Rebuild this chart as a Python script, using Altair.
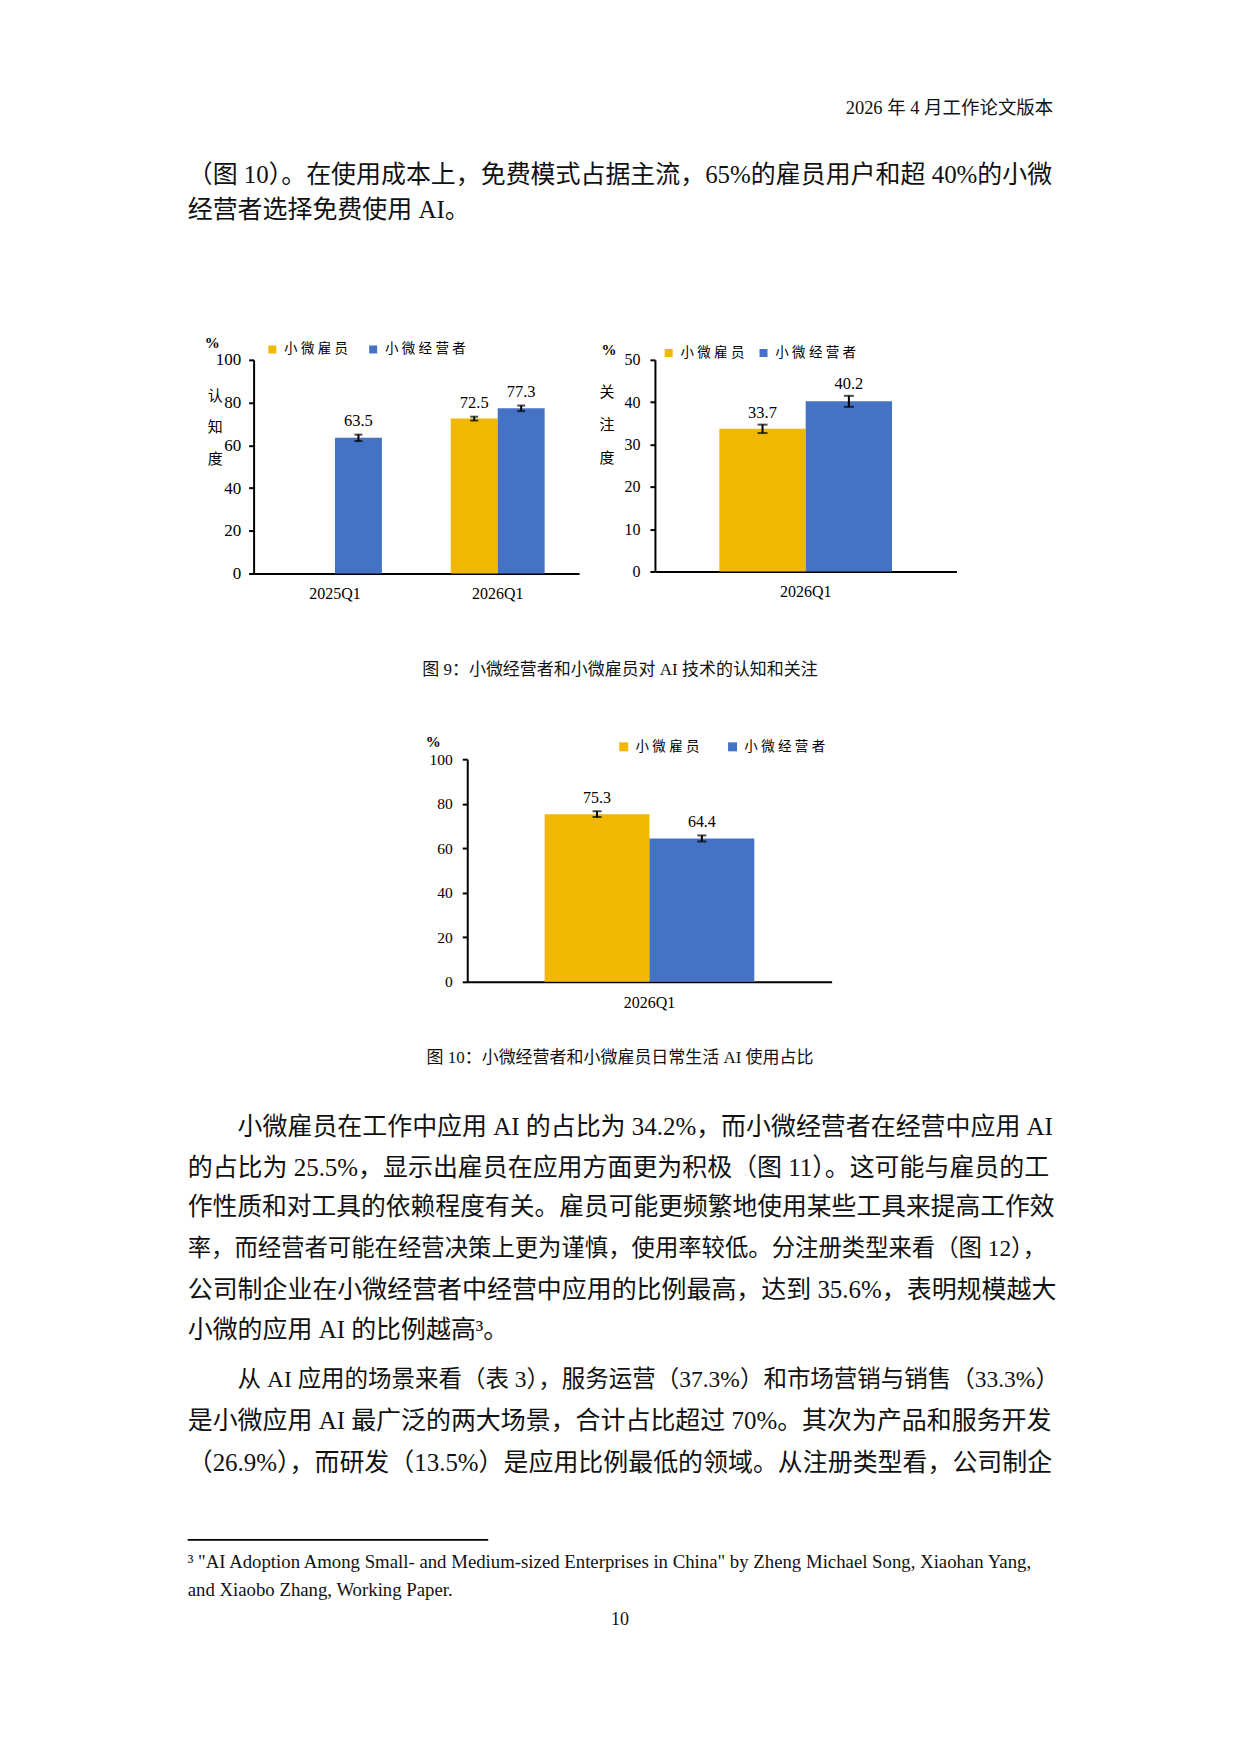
import altair as alt
import pandas as pd

SERIF = "Liberation Serif, Noto Sans CJK SC"
INK = "#111111"
YEL = "#F2B800"
BLU = "#4472C4"

SERIES = ["小微雇员", "小微经营者"]

# ---- Figure 9 (left): 认知度
F9A_PERIODS = ["2025Q1", "2026Q1"]
F9A_PERIOD = ["2025Q1", "2026Q1", "2026Q1"]
F9A_GROUP = ["小微经营者", "小微雇员", "小微经营者"]
F9A_VALUE = [63.5, 72.5, 77.3]
F9A_ERR = [1.5, 0.9, 1.3]
F9A_TICKS = [0, 20, 40, 60, 80, 100]
F9A_YTITLE = "认知度"

# ---- Figure 9 (right): 关注度
F9B_PERIODS = ["2026Q1"]
F9B_PERIOD = ["2026Q1", "2026Q1"]
F9B_GROUP = ["小微雇员", "小微经营者"]
F9B_VALUE = [33.7, 40.2]
F9B_ERR = [1.0, 1.3]
F9B_TICKS = [0, 10, 20, 30, 40, 50]
F9B_YTITLE = "关注度"

# ---- Figure 10
F10_PERIODS = ["2026Q1"]
F10_PERIOD = ["2026Q1", "2026Q1"]
F10_GROUP = ["小微雇员", "小微经营者"]
F10_VALUE = [75.3, 64.4]
F10_ERR = [1.3, 1.35]
F10_TICKS = [0, 20, 40, 60, 80, 100]

# ---- page text
HEADER = "2026 年 4 月工作论文版本"
PARA1 = [
    "（图 10）。在使用成本上，免费模式占据主流，65%的雇员用户和超 40%的小微",
    "经营者选择免费使用 AI。",
]
CAPTION9 = "图 9：小微经营者和小微雇员对 AI 技术的认知和关注"
CAPTION10 = "图 10：小微经营者和小微雇员日常生活 AI 使用占比"
PARA2 = [
    "小微雇员在工作中应用 AI 的占比为 34.2%，而小微经营者在经营中应用 AI",
    "的占比为 25.5%，显示出雇员在应用方面更为积极（图 11）。这可能与雇员的工",
    "作性质和对工具的依赖程度有关。雇员可能更频繁地使用某些工具来提高工作效",
    "率，而经营者可能在经营决策上更为谨慎，使用率较低。分注册类型来看（图 12），",
    "公司制企业在小微经营者中经营中应用的比例最高，达到 35.6%，表明规模越大",
    "小微的应用 AI 的比例越高³。",
]
PARA3 = [
    "从 AI 应用的场景来看（表 3），服务运营（37.3%）和市场营销与销售（33.3%）",
    "是小微应用 AI 最广泛的两大场景，合计占比超过 70%。其次为产品和服务开发",
    "（26.9%），而研发（13.5%）是应用比例最低的领域。从注册类型看，公司制企",
]
FOOTNOTE = [
    "³ \"AI Adoption Among Small- and Medium-sized Enterprises in China\" by Zheng Michael Song, Xiaohan Yang,",
    "and Xiaobo Zhang, Working Paper.",
]
PAGE_NO = "10"

# ---- approximate text widths (Times metrics for Latin, 1em for CJK) for line fitting
_TW = dict(zip("abcdefghijklmnopqrstuvwxyz",
               [444, 500, 444, 500, 444, 333, 500, 500, 278, 278, 500, 278, 778, 500, 500, 500, 500, 333,
                389, 278, 500, 500, 722, 500, 500, 444]))
_TW.update(dict(zip("ABCDEFGHIJKLMNOPQRSTUVWXYZ",
                    [722, 667, 667, 722, 611, 556, 722, 722, 333, 389, 722, 611, 889, 722, 722, 556, 722, 667,
                     556, 611, 722, 722, 944, 722, 722, 611])))
_TW.update({c: 500 for c in "0123456789"})
_TW.update({" ": 250, ".": 250, ",": 250, "-": 333, "%": 833, "\"": 408, "(": 333, ")": 333, "³": 300, ":": 278})


def em(s, latin_k=1.0):
    return sum(1.0 if ord(c) >= 0x2E80 else latin_k * _TW.get(c, 500) / 1000 for c in s)


def panel(period, group, value, err, periods, ticks, W, H, pin, pout, ytitle, st):
    df = pd.DataFrame({"period": period, "group": group, "value": value, "err": err})
    df["lo"] = df["value"] - df["err"]
    df["hi"] = df["value"] + df["err"]
    xaxis = alt.Axis(title=None, labelAngle=0, ticks=False, tickSize=0, labelPadding=12.5,
                     labelFont=SERIF, labelFontSize=16, labelColor="black",
                     domainColor="black", domainWidth=2)
    yaxis = alt.Axis(title=None, values=ticks, grid=False, tickSize=5, tickWidth=2, tickColor="black",
                     labelPadding=st["ypad"], labelFont=SERIF, labelFontSize=st["yfs"],
                     labelColor="black", domainColor="black", domainWidth=2)
    xs = alt.Scale(domain=periods, paddingInner=pin, paddingOuter=pout)
    ys = alt.Scale(domain=[ticks[0], ticks[-1]], nice=False)

    def X():
        return alt.X("period:N", sort=periods, scale=xs, axis=xaxis)

    def XO():
        return alt.XOffset("group:N", sort=SERIES,
                           scale=alt.Scale(domain=SERIES, paddingInner=0, paddingOuter=0))

    def Y(f):
        return alt.Y(f + ":Q", scale=ys, axis=yaxis)

    legend = alt.Legend(orient="none", legendX=st["lx"], legendY=st["ly"], direction="horizontal",
                        title=None, symbolType="square", symbolSize=st["ss"], symbolStrokeWidth=0,
                        labelFont=SERIF, labelFontSize=13.5, labelColor="black", labelOffset=5,
                        columnPadding=st["cp"], padding=0,
                        labelExpr="join(split(datum.label, ''), ' ')")
    base = alt.Chart(df)
    frame = alt.Chart(pd.DataFrame({"k": [0]})).mark_rect(fill="transparent", opacity=0).encode(
        x=alt.value(-65), x2=alt.value(W + 5), y=alt.value(-st["ftop"]), y2=alt.value(H + 40))
    bars = base.mark_bar().encode(
        x=X(), xOffset=XO(), y=Y("value"),
        color=alt.Color("group:N", scale=alt.Scale(domain=SERIES, range=[YEL, BLU]), legend=legend))
    rule = base.mark_rule(color="black", strokeWidth=2).encode(
        x=X(), xOffset=XO(), y=Y("lo"), y2=alt.Y2("hi:Q"))
    cap_lo = base.mark_tick(color="black", thickness=2, size=st["cap"]).encode(
        x=X(), xOffset=XO(), y=Y("lo"))
    cap_hi = base.mark_tick(color="black", thickness=2, size=st["cap"]).encode(
        x=X(), xOffset=XO(), y=Y("hi"))
    labels = base.mark_text(dy=st["dy"], font=SERIF, fontSize=st["lfs"], color="black",
                            baseline="middle").encode(
        x=X(), xOffset=XO(), y=Y("hi"), text=alt.Text("value:Q", format=".1f"))
    pct = alt.Chart(pd.DataFrame({"t": ["%"]})).mark_text(
        font=SERIF, fontSize=15, fontWeight="bold", color="black", baseline="middle").encode(
        x=alt.value(st["px"]), y=alt.value(st["py"]), text="t:N")
    layers = [frame, bars, rule, cap_lo, cap_hi, labels, pct]
    if ytitle:
        for i, ch in enumerate(ytitle):
            layers.append(alt.Chart(pd.DataFrame({"t": [ch]})).mark_text(
                font=SERIF, fontSize=15, color="black", baseline="middle").encode(
                x=alt.value(st["tx"]), y=alt.value(st["ty"] + i * st["tlh"]), text="t:N"))
    return alt.layer(*layers).properties(width=W, height=H)


def spacer(w, h=1):
    return alt.Chart(pd.DataFrame({"k": [0]})).mark_rect(opacity=0).encode(
        x=alt.value(0), x2=alt.value(1), y=alt.value(0), y2=alt.value(1)).properties(width=w, height=h)


def text_view(items, H, offset, rules=()):
    layers = []
    for align in ["left", "center", "right"]:
        rows = [dict(t=it["t"], x=it["x"] - 8, y=it["y"] - offset + 0.08 * it["fs"], fs=it["fs"])
                for it in items if it["align"] == align]
        if not rows:
            continue
        layers.append(alt.Chart(pd.DataFrame(rows)).mark_text(
            align=align, baseline="middle", font=SERIF, color=INK).encode(
            x=alt.X("x:Q", scale=None, axis=None),
            y=alt.Y("y:Q", scale=None, axis=None),
            text="t:N",
            size=alt.Size("fs:Q", scale=None, legend=None)))
    for (x1, x2, y, w) in rules:
        layers.append(alt.Chart(pd.DataFrame({"k": [0]})).mark_rule(color="black", strokeWidth=w).encode(
            x=alt.value(x1 - 8), x2=alt.value(x2 - 8), y=alt.value(y - offset)))
    return alt.layer(*layers).properties(width=1223, height=H)


BASE = 25.0
LEFT, RIGHT = 187.0, 1054.0
FIT_RIGHT = 1056.0
INDENT = 50.0


def para(lines, y0, lh, first_indent):
    out = []
    for i, s in enumerate(lines):
        x = LEFT + (INDENT if (i == 0 and first_indent) else 0)
        last = i == len(lines) - 1
        fs = BASE
        if not last:
            fit = (FIT_RIGHT - x) / em(s, 0.91)
            fs = min(BASE, max(23.0, fit))
        out.append(dict(t=s, x=x, y=y0 + i * lh, fs=fs, align="left"))
    return out


# row layout (page coordinates of row tops)
H1, H2, H3, H4 = 318.5, 283, 112.5, 293
R1 = 8
R3 = R1 + H1 + H2
R5 = R3 + H3 + H4
H5 = 1738 - R5

# row 1: header + first paragraph
row1_items = [dict(t=HEADER, x=RIGHT, y=104, fs=18.5, align="right")]
row1_items += para(PARA1, 170.7, 35.6, False)
row1 = text_view(row1_items, H1, R1)

# row 2: figure 9 panels
st1 = dict(ypad=8, yfs=17, lx=12, ly=-17.5, ss=64, cp=18, px=-41.5, py=-17,
           tx=-38.5, ty=36, tlh=31.5, cap=8, lfs=16.5, dy=-14, ftop=29)
st2 = dict(ypad=10, yfs=16, lx=7, ly=-14, ss=64, cp=12, px=-46, py=-10,
           tx=-48, ty=32, tlh=33, cap=10, lfs=16.5, dy=-12, ftop=30)
st3 = dict(ypad=10, yfs=15.5, lx=150, ly=-19.5, ss=81, cp=26, px=-34, py=-17,
           cap=9, lfs=16, dy=-13, ftop=30)

c1 = panel(F9A_PERIOD, F9A_GROUP, F9A_VALUE, F9A_ERR, F9A_PERIODS, F9A_TICKS,
           326, 214, 0.423, 0.2115, F9A_YTITLE, st1)
c2 = panel(F9B_PERIOD, F9B_GROUP, F9B_VALUE, F9B_ERR, F9B_PERIODS, F9B_TICKS,
           302, 212, 0.0, 0.373, F9B_YTITLE, st2)
c3 = panel(F10_PERIOD, F10_GROUP, F10_VALUE, F10_ERR, F10_PERIODS, F10_TICKS,
           365, 223, 0.0, 0.369, None, st3)

row2 = alt.hconcat(spacer(178.5), c1, spacer(1.8), c2, spacing=0).resolve_scale(
    color="independent", xOffset="independent").resolve_legend(color="independent")

# row 3: caption 9
row3 = text_view([dict(t=CAPTION9, x=620, y=662.5, fs=17, align="center")], H3, R3)

# row 4: figure 10
row4 = alt.hconcat(spacer(392.5), c3, spacing=0).resolve_scale(
    color="independent", xOffset="independent").resolve_legend(color="independent")

# row 5: caption 10, paragraphs, footnote, page number
row5_items = [dict(t=CAPTION10, x=620, y=1048.3, fs=17, align="center")]
row5_items += para(PARA2, 1116.2, 40.8, True)
row5_items += para(PARA3, 1369.8, 41.5, True)
fn_fs = min(19.0, max(16.0, 850.0 / em(FOOTNOTE[0])))
row5_items += [dict(t=FOOTNOTE[0], x=LEFT, y=1552.9, fs=fn_fs, align="left"),
               dict(t=FOOTNOTE[1], x=LEFT, y=1580.7, fs=fn_fs, align="left"),
               dict(t=PAGE_NO, x=620, y=1610.5, fs=18, align="center")]
row5 = text_view(row5_items, H5, R5, rules=[(187, 488, 1531.9, 1.7)])

chart = alt.vconcat(row1, row2, row3, row4, row5, spacing=0).resolve_scale(
    color="independent", xOffset="independent", size="independent"
).resolve_legend(color="independent", size="independent").properties(
    padding=0
).configure_view(stroke="transparent")

chart.save("out.html", embed_options={"renderer": "svg", "actions": False})
